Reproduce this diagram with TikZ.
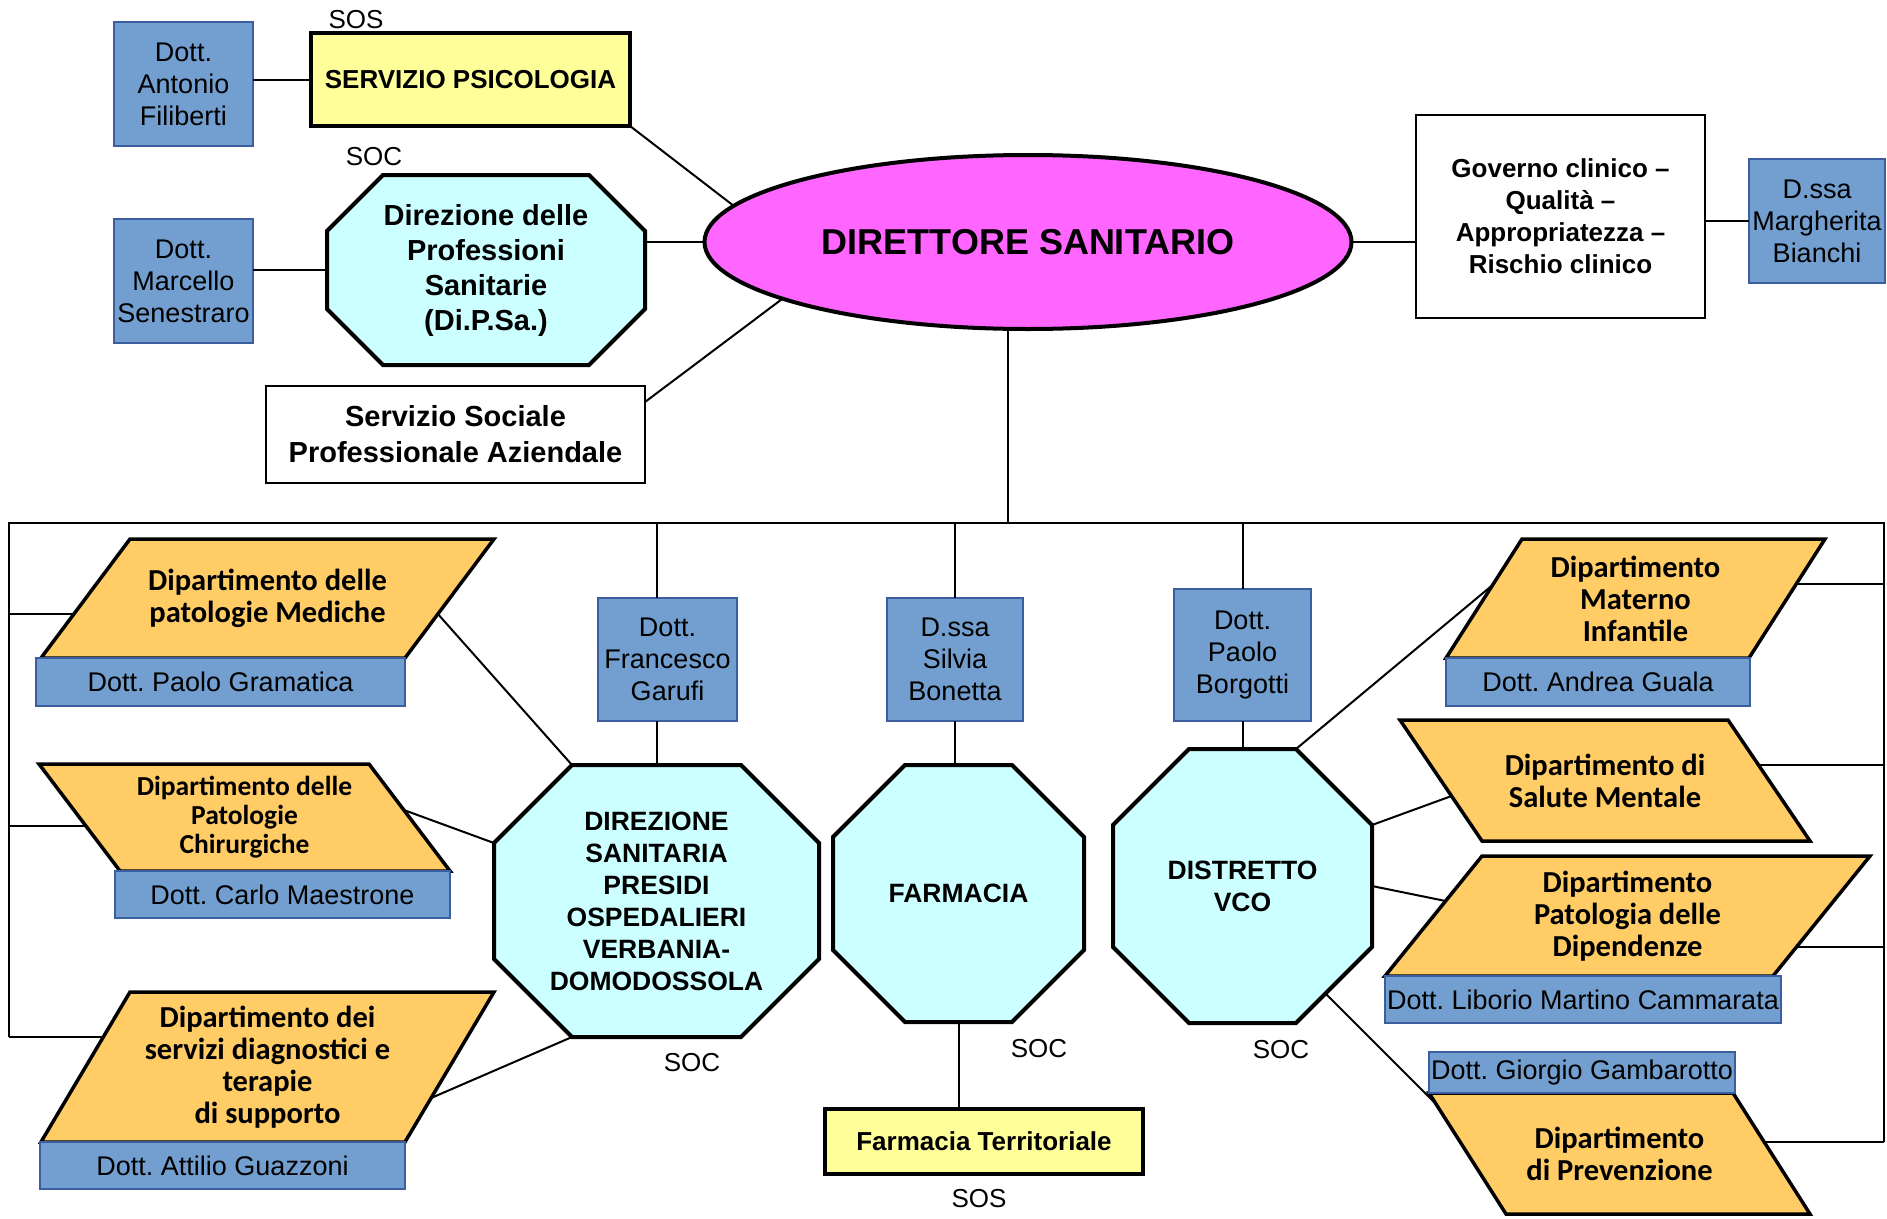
\documentclass[tikz,border=0pt]{standalone}
\usepackage{fontspec}
\setmainfont{Liberation Sans}
\newfontfamily\deptfont{Carlito}
\usetikzlibrary{shapes.geometric}
\pgfdeclarelayer{bg}
\pgfsetlayers{bg,main}
\definecolor{namefill}{RGB}{114,159,207}
\definecolor{nameborder}{RGB}{58,94,160}
\definecolor{sosfill}{RGB}{255,255,153}
\definecolor{socfill}{RGB}{204,255,255}
\definecolor{dsfill}{RGB}{255,102,255}
\definecolor{deptfill}{RGB}{255,204,102}
\frenchspacing

\begin{document}
\begin{tikzpicture}[x=1pt,y=-1pt,
    namebox/.style={draw=nameborder, fill=namefill, line width=2.5pt, font=\fontsize{27}{32}\selectfont},
    sosbox/.style={draw, fill=sosfill, line width=4pt, font=\bfseries\fontsize{26}{32}\selectfont},
    plainbox/.style={draw, line width=2.5pt, font=\bfseries\fontsize{29}{36}\selectfont},
    soctext/.style={font=\bfseries\fontsize{26.5}{32}\selectfont},
    socshape/.style={draw, fill=socfill, line width=4pt, line join=miter},
    dept/.style={font=\deptfont\bfseries\fontsize{30.5}{32}\selectfont},
    deptshape/.style={draw, fill=deptfill, line width=3.5pt, line join=miter},
    unitlbl/.style={font=\fontsize{26}{30}\selectfont},
    link/.style={line width=2pt}]
    \tikzstyle{every node}+=[inner sep=0pt, outer sep=0pt, align=center]
    \useasboundingbox (0,0) rectangle (1887,1218);
    % direzione sanitaria e staff
    \node [ellipse, draw, fill=dsfill, line width=4pt, minimum width=647pt, minimum height=174pt, font=\bfseries\fontsize{36}{40}\selectfont] (ds) at (1028,242) {DIRETTORE SANITARIO};
    \node [namebox, minimum width=139pt, minimum height=124pt] (filiberti) at (183.5,84) {Dott.\\Antonio\\Filiberti};
    \node [sosbox, minimum width=319pt, minimum height=93pt] (psico) at (470.5,79.5) {SERVIZIO PSICOLOGIA};
    \node [unitlbl] (sospsico) at (356,20) {SOS};
    \node [unitlbl] (socdipsa) at (374,157) {SOC};
    \node [soctext, minimum width=318pt, minimum height=190pt, font=\bfseries\fontsize{29}{35}\selectfont] (dipsa) at (486,270) {Direzione delle\\Professioni\\Sanitarie\\(Di.P.Sa.)};
    \node [namebox, minimum width=139pt, minimum height=124pt] (senestraro) at (183.5,281) {Dott.\\Marcello\\Senestraro};
    \node [plainbox, minimum width=379pt, minimum height=97pt] (sociale) at (455.5,434.5) {Servizio Sociale\\Professionale Aziendale};
    \node [plainbox, minimum width=289pt, minimum height=203pt, font=\bfseries\fontsize{26}{32}\selectfont] (governo) at (1560.5,216.5) {Governo clinico --\\Qualità --\\Appropriatezza --\\Rischio clinico};
    \node [namebox, minimum width=136pt, minimum height=124pt] (bianchi) at (1817,221) {D.ssa\\Margherita\\Bianchi};
    % strutture centrali
    \node [namebox, minimum width=139pt, minimum height=123pt] (garufi) at (667.5,659.5) {Dott.\\Francesco\\Garufi};
    \node [soctext, minimum width=325pt, minimum height=272pt] (dsp) at (656.5,901) {DIREZIONE\\SANITARIA\\PRESIDI\\OSPEDALIERI\\VERBANIA-\\DOMODOSSOLA};
    \node [unitlbl] (socdsp) at (692,1063) {SOC};
    \node [namebox, minimum width=136pt, minimum height=123pt] (bonetta) at (955,659.5) {D.ssa\\Silvia\\Bonetta};
    \node [soctext, minimum width=251pt, minimum height=257pt] (farm) at (958.5,893.5) {FARMACIA};
    \node [unitlbl] (socfarm) at (1039,1049) {SOC};
    \node [sosbox, minimum width=318pt, minimum height=65pt] (farmterr) at (984,1141.5) {Farmacia Territoriale};
    \node [unitlbl] (sosfarm) at (979,1199) {SOS};
    \node [namebox, minimum width=137pt, minimum height=132pt] (borgotti) at (1242.5,655) {Dott.\\Paolo\\Borgotti};
    \node [soctext, minimum width=259pt, minimum height=274pt] (vco) at (1242.5,886) {DISTRETTO\\VCO};
    \node [unitlbl] (socvco) at (1281,1050) {SOC};
    % dipartimenti a sinistra
    \node [dept, minimum width=453pt, minimum height=119pt] (mediche) at (267.5,598.5) {Dipartimento delle\\patologie Mediche};
    \node [dept, minimum width=411pt, minimum height=107pt, font=\deptfont\bfseries\fontsize{27.5}{29}\selectfont] (chir) at (244.5,817.5) {Dipartimento delle\\Patologie\\Chirurgiche};
    \node [dept, minimum width=453pt, minimum height=150pt] (diag) at (267.5,1067) {Dipartimento dei\\servizi diagnostici e\\terapie\\di supporto};
    % dipartimenti a destra
    \node [dept, minimum width=379pt, minimum height=119pt] (materno) at (1635.5,598.5) {Dipartimento\\Materno\\Infantile};
    \node [dept, minimum width=410pt, minimum height=121pt] (salute) at (1605,780.5) {Dipartimento di\\Salute Mentale};
    \node [dept, minimum width=485pt, minimum height=120pt] (dip) at (1627.5,916) {Dipartimento\\Patologia delle\\Dipendenze};
    \node [dept, minimum width=381pt, minimum height=121pt] (prev) at (1619.5,1153.5) {Dipartimento\\di Prevenzione};
    \begin{pgfonlayer}{bg}
    % ottagoni delle SOC
    \filldraw [socshape] ([xshift=56pt]dipsa.north west) -- ([xshift=-56pt]dipsa.north east) -- ([yshift=-56pt]dipsa.north east) -- ([yshift=56pt]dipsa.south east) -- ([xshift=-56pt]dipsa.south east) -- ([xshift=56pt]dipsa.south west) -- ([yshift=56pt]dipsa.south west) -- ([yshift=-56pt]dipsa.north west) -- cycle;
    \filldraw [socshape] ([xshift=78pt]dsp.north west) -- ([xshift=-78pt]dsp.north east) -- ([yshift=-78pt]dsp.north east) -- ([yshift=78pt]dsp.south east) -- ([xshift=-78pt]dsp.south east) -- ([xshift=78pt]dsp.south west) -- ([yshift=78pt]dsp.south west) -- ([yshift=-78pt]dsp.north west) -- cycle;
    \filldraw [socshape] ([xshift=72pt]farm.north west) -- ([xshift=-72pt]farm.north east) -- ([yshift=-72pt]farm.north east) -- ([yshift=72pt]farm.south east) -- ([xshift=-72pt]farm.south east) -- ([xshift=72pt]farm.south west) -- ([yshift=72pt]farm.south west) -- ([yshift=-72pt]farm.north west) -- cycle;
    \filldraw [socshape] ([xshift=76pt]vco.north west) -- ([xshift=-76pt]vco.north east) -- ([yshift=-76pt]vco.north east) -- ([yshift=76pt]vco.south east) -- ([xshift=-76pt]vco.south east) -- ([xshift=76pt]vco.south west) -- ([yshift=76pt]vco.south west) -- ([yshift=-76pt]vco.north west) -- cycle;
    % parallelogrammi dei dipartimenti
    \filldraw [deptshape] ([xshift=89pt]mediche.north west) -- (mediche.north east) -- ([xshift=-89pt]mediche.south east) -- (mediche.south west) -- cycle;
    \filldraw [deptshape] (chir.north west) -- ([xshift=-81pt]chir.north east) -- (chir.south east) -- ([xshift=81pt]chir.south west) -- cycle;
    \filldraw [deptshape] ([xshift=89pt]diag.north west) -- (diag.north east) -- ([xshift=-89pt]diag.south east) -- (diag.south west) -- cycle;
    \filldraw [deptshape] ([xshift=76pt]materno.north west) -- (materno.north east) -- ([xshift=-76pt]materno.south east) -- (materno.south west) -- cycle;
    \filldraw [deptshape] (salute.north west) -- ([xshift=-82pt]salute.north east) -- (salute.south east) -- ([xshift=82pt]salute.south west) -- cycle;
    \filldraw [deptshape] ([xshift=97pt]dip.north west) -- (dip.north east) -- ([xshift=-97pt]dip.south east) -- (dip.south west) -- cycle;
    \filldraw [deptshape] (prev.north west) -- ([xshift=-77pt]prev.north east) -- (prev.south east) -- ([xshift=77pt]prev.south west) -- cycle;
    \end{pgfonlayer}
    % direttori dei dipartimenti
    \node [namebox, minimum width=369pt, minimum height=48pt, anchor=north east] (gramatica) at ([xshift=-89pt]mediche.south east) {Dott. Paolo Gramatica};
    \node [namebox, minimum width=335pt, minimum height=47pt, anchor=north east] (maestrone) at (chir.south east) {Dott. Carlo Maestrone};
    \node [namebox, minimum width=365pt, minimum height=47pt, anchor=north east] (guazzoni) at ([xshift=-89pt]diag.south east) {Dott. Attilio Guazzoni};
    \node [namebox, minimum width=304pt, minimum height=48pt, anchor=north west] (guala) at (materno.south west) {Dott. Andrea Guala};
    \node [namebox, minimum width=396pt, minimum height=47pt, anchor=north west] (liborio) at (dip.south west) {Dott. Liborio Martino Cammarata};
    \node [namebox, minimum width=306pt, minimum height=41pt, anchor=south west] (gambarotto) at (prev.north west) {Dott. Giorgio Gambarotto};
    % punti di attacco
    \coordinate (medW) at ([xshift=32.9pt,yshift=-15.5pt]mediche.west);
    \coordinate (medE) at ([xshift=-56.1pt,yshift=-15.5pt]mediche.east);
    \coordinate (chirW) at ([xshift=46.9pt,yshift=-8.5pt]chir.west);
    \coordinate (chirE) at ([xshift=-46.2pt,yshift=7.5pt]chir.east);
    \coordinate (diagW) at ([xshift=62.3pt,yshift=30pt]diag.west);
    \coordinate (diagE) at ([xshift=-62.9pt,yshift=-31pt]diag.east);
    \coordinate (matW) at ([xshift=46.6pt,yshift=13.5pt]materno.west);
    \coordinate (matE) at ([xshift=-28.7pt,yshift=14.5pt]materno.east);
    \coordinate (salW) at ([xshift=51.5pt,yshift=-15.5pt]salute.west);
    \coordinate (salE) at ([xshift=-51.5pt,yshift=15.5pt]salute.east);
    \coordinate (dipW) at ([xshift=60.6pt,yshift=15pt]dip.west);
    \coordinate (dipE) at ([xshift=-73.6pt,yshift=-31pt]dip.east);
    \coordinate (prevW) at ([xshift=6pt,yshift=-10pt]prev.north west);
    \coordinate (prevE) at ([xshift=-45.8pt,yshift=11.5pt]prev.east);
    % collegamenti
    \coordinate (bus) at (1008,523);
    \coordinate (lbus) at (9,523);
    \coordinate (rbus) at (1884,523);
    \draw [link] (filiberti.east |- psico.west) -- (psico.west);
    \draw [link] (senestraro.east |- dipsa.west) -- (dipsa.west);
    \draw [link] (dipsa.east |- ds.west) -- (ds.west);
    \draw [link] (psico.south east) -- (ds.173);
    \draw [link] ([yshift=-16pt]sociale.north east) -- (ds.193);
    \draw [link] (ds.east) -- (ds.east -| governo.west);
    \draw [link] (governo.east |- bianchi.west) -- (bianchi.west);
    \draw [link] (bus |- ds.south) -- (bus);
    \draw [link] (lbus |- diagW) -- (lbus) -- (rbus) -- (rbus |- prevE);
    \draw [link] (dsp.north |- lbus) -- (dsp.north |- garufi.north);
    \draw [link] (dsp.north |- garufi.south) -- (dsp.north);
    \draw [link] (bonetta.north |- lbus) -- (bonetta.north);
    \draw [link] (bonetta.south) -- (bonetta.south |- farm.north);
    \draw [link] (farm.south) -- (farm.south |- farmterr.north);
    \draw [link] (vco.north |- lbus) -- (vco.north |- borgotti.north);
    \draw [link] (vco.north |- borgotti.south) -- (vco.north);
    \draw [link] (medW -| lbus) -- (medW);
    \draw [link] (chirW -| lbus) -- (chirW);
    \draw [link] (diagW -| lbus) -- (diagW);
    \draw [link] (medE) -- ([xshift=78pt]dsp.north west);
    \draw [link] (chirE) -- ([yshift=-78pt]dsp.north west);
    \draw [link] (diagE) -- ([xshift=78pt]dsp.south west);
    \draw [link] ([xshift=-76pt]vco.north east) -- (matW);
    \draw [link] ([yshift=-76pt]vco.north east) -- (salW);
    \draw [link] (vco.east) -- (dipW);
    \draw [link] ([xshift=-46pt,yshift=29pt]vco.south east) -- (prevW);
    \draw [link] (matE) -- (matE -| rbus);
    \draw [link] (salE) -- (salE -| rbus);
    \draw [link] (dipE) -- (dipE -| rbus);
    \draw [link] (prevE) -- (prevE -| rbus);
\end{tikzpicture}
\end{document}
